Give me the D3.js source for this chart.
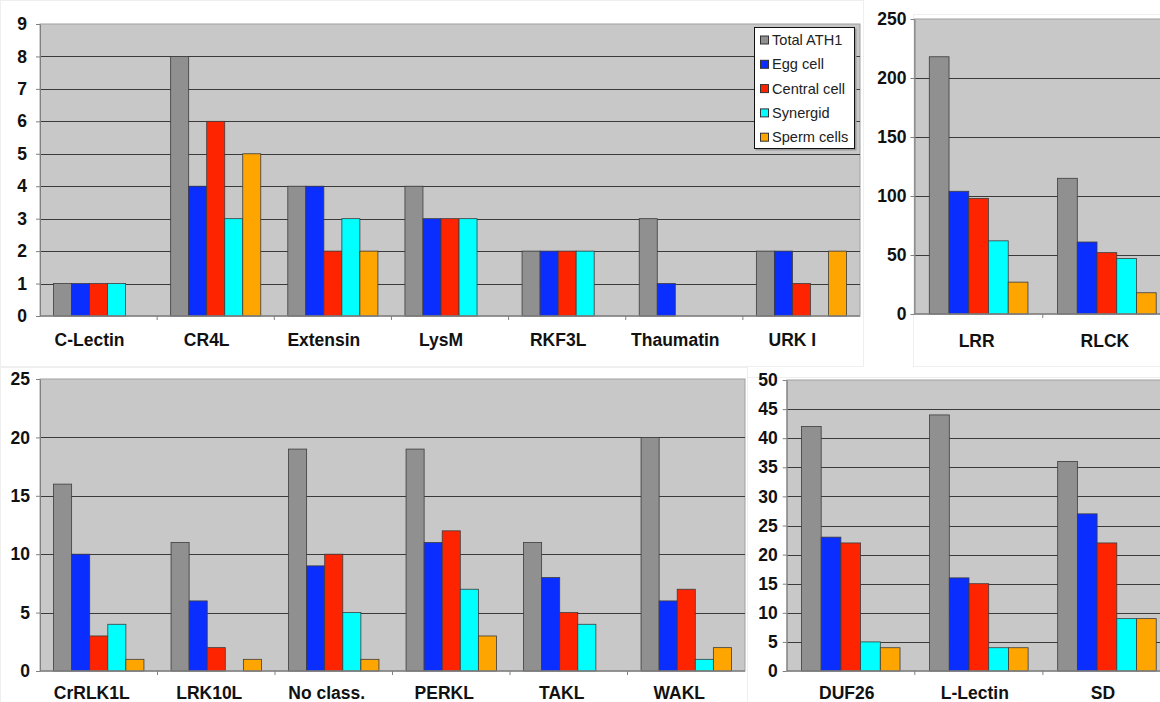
<!DOCTYPE html>
<html>
<head>
<meta charset="utf-8">
<script src="https://cdn.jsdelivr.net/npm/d3@7"></script>
<style>
  html, body { margin: 0; padding: 0; background: #fff; }
  svg { display: block; font-family: "Liberation Sans", Arial, sans-serif; }
</style>
</head>
<body>
<svg id="chart" width="1160" height="702"></svg>
<script>
// Series shared by every panel
const seriesNames = ["Total ATH1", "Egg cell", "Central cell", "Synergid", "Sperm cells"];
const seriesColors = ["#909090", "#0a2eff", "#ff2400", "#00ffff", "#ffa500"];

// Panel A: small families
const catsA = ["C-Lectin", "CR4L", "Extensin", "LysM", "RKF3L", "Thaumatin", "URK I"];
const totalA = [1, 8, 4, 4, 2, 3, 2];
const eggA = [1, 4, 4, 3, 2, 1, 2];
const centralA = [1, 6, 2, 3, 2, 0, 1];
const synergidA = [1, 3, 3, 3, 2, 0, 0];
const spermA = [0, 5, 2, 0, 0, 0, 2];
const ticksA = [0, 1, 2, 3, 4, 5, 6, 7, 8, 9];

// Panel B: large families
const catsB = ["LRR", "RLCK"];
const totalB = [218, 115];
const eggB = [104, 61];
const centralB = [98, 52];
const synergidB = [62, 47];
const spermB = [27, 18];
const ticksB = [0, 50, 100, 150, 200, 250];

// Panel C: medium families
const catsC = ["CrRLK1L", "LRK10L", "No class.", "PERKL", "TAKL", "WAKL"];
const totalC = [16, 11, 19, 19, 11, 20];
const eggC = [10, 6, 9, 11, 8, 6];
const centralC = [3, 2, 10, 12, 5, 7];
const synergidC = [4, 0, 5, 7, 4, 1];
const spermC = [1, 1, 1, 3, 0, 2];
const ticksC = [0, 5, 10, 15, 20, 25];

// Panel D: lectin / DUF26 families
const catsD = ["DUF26", "L-Lectin", "SD"];
const totalD = [42, 44, 36];
const eggD = [23, 16, 27];
const centralD = [22, 15, 22];
const synergidD = [5, 4, 9];
const spermD = [4, 4, 9];
const ticksD = [0, 5, 10, 15, 20, 25, 30, 35, 40, 45, 50];

const svg = d3.select("#chart");

// faint chart-area frames
const frames = [
  [0, 0, 863, 366],
  [913, 14, 260, 352],
  [0, 367, 747, 340],
  [747, 377, 420, 330]
];
svg.selectAll("rect.frame").data(frames).join("rect")
  .attr("class", "frame")
  .attr("x", d => d[0] + 0.5).attr("y", d => d[1] + 0.5)
  .attr("width", d => d[2]).attr("height", d => d[3])
  .attr("fill", "none").attr("stroke", "#efefef").attr("stroke-width", 1);

function drawPanel(cfg) {
  const g = svg.append("g");
  const x = d3.scaleBand().domain(cfg.cats).range([cfg.left, cfg.right]).paddingInner(0).paddingOuter(0);
  const y = d3.scaleLinear().domain([0, cfg.ticks[cfg.ticks.length - 1]]).range([cfg.bottom, cfg.top]);
  const w = cfg.right - cfg.left;

  // plot background
  g.append("rect")
    .attr("x", cfg.left).attr("y", cfg.top)
    .attr("width", w).attr("height", cfg.bottom - cfg.top)
    .attr("fill", "#c8c8c8").attr("stroke", "#a0a0a0").attr("stroke-width", 1);

  // gridlines
  g.append("g")
    .attr("transform", `translate(${cfg.left},0)`)
    .call(d3.axisLeft(y).tickValues(cfg.ticks.filter(t => t > 0 && t < cfg.ticks[cfg.ticks.length - 1])).tickSize(-w).tickFormat(""))
    .call(a => a.select(".domain").remove())
    .call(a => a.selectAll("line").attr("stroke", "#3a3a3a").attr("stroke-width", 1).attr("shape-rendering", "crispEdges"));

  // bars: five per category, with a 150% gap between groups
  const group = x.bandwidth();
  const barW = group / (seriesNames.length + 1.5);
  const inner = d3.scaleBand().domain(d3.range(seriesNames.length))
    .range([barW * 0.75, barW * 0.75 + barW * seriesNames.length]);
  const rows = [];
  cfg.cats.forEach((c, i) => {
    cfg.series.forEach((vals, s) => {
      if (vals[i] > 0) rows.push({ c, s, v: vals[i] });
    });
  });
  g.selectAll("rect.bar").data(rows).join("rect")
    .attr("class", "bar")
    .attr("x", d => x(d.c) + inner(d.s))
    .attr("y", d => y(d.v))
    .attr("width", inner.bandwidth())
    .attr("height", d => y(0) - y(d.v))
    .attr("fill", d => seriesColors[d.s])
    .attr("stroke", "#3c3c3c").attr("stroke-width", 0.8);

  // value axis
  const ya = g.append("g")
    .attr("transform", `translate(${cfg.left},0)`)
    .call(d3.axisLeft(y).tickValues(cfg.ticks).tickSize(4).tickPadding(cfg.labelGap).tickSizeOuter(0));
  ya.select(".domain").attr("stroke", "#808080");
  ya.selectAll("line").attr("stroke", "#808080");
  ya.selectAll("text").attr("font-size", 17.5).attr("font-weight", "bold").attr("fill", "#111")
    .attr("font-family", "Liberation Sans, Arial, sans-serif");

  // category axis
  const xa = g.append("g").attr("transform", `translate(0,${cfg.bottom})`);
  xa.append("line").attr("x1", cfg.left).attr("x2", cfg.right).attr("y1", 0).attr("y2", 0)
    .attr("stroke", "#808080").attr("stroke-width", 1.5);
  xa.selectAll("line.tick").data(cfg.cats.slice(1)).join("line")
    .attr("class", "tick")
    .attr("x1", d => x(d)).attr("x2", d => x(d)).attr("y1", 0).attr("y2", 4)
    .attr("stroke", "#808080");
  xa.selectAll("text").data(cfg.cats).join("text")
    .attr("x", d => x(d) + group / 2 + cfg.labelShift)
    .attr("y", cfg.labelY)
    .attr("text-anchor", "middle")
    .attr("font-size", 17.5).attr("font-weight", "bold").attr("fill", "#111")
    .text(d => d);
}

drawPanel({ cats: catsA, series: [totalA, eggA, centralA, synergidA, spermA], ticks: ticksA,
  left: 40, right: 860, top: 24, bottom: 316, labelGap: 9, labelY: 30, labelShift: -9 });
drawPanel({ cats: catsB, series: [totalB, eggB, centralB, synergidB, spermB], ticks: ticksB,
  left: 914.5, right: 1171, top: 19, bottom: 314, labelGap: 4, labelY: 33, labelShift: -2 });
drawPanel({ cats: catsC, series: [totalC, eggC, centralC, synergidC, spermC], ticks: ticksC,
  left: 40, right: 745, top: 379, bottom: 671, labelGap: 6, labelY: 28, labelShift: -7 });
drawPanel({ cats: catsD, series: [totalD, eggD, centralD, synergidD, spermD], ticks: ticksD,
  left: 786.7, right: 1171, top: 380, bottom: 671, labelGap: 5, labelY: 28, labelShift: -4 });

// legend
const lg = svg.append("g").attr("transform", "translate(754,27)");
lg.append("rect").attr("x", 1.5).attr("y", 1.5).attr("width", 101).attr("height", 122).attr("fill", "#9a9a9a");
lg.append("rect").attr("x", 0.5).attr("y", 0.5).attr("width", 100).attr("height", 121)
  .attr("fill", "#fff").attr("stroke", "#111").attr("stroke-width", 1);
const items = lg.selectAll("g.item").data(seriesNames).join("g")
  .attr("class", "item")
  .attr("transform", (d, i) => `translate(0,${12.5 + i * 24.3})`);
items.append("rect").attr("x", 6.5).attr("y", -3.5).attr("width", 8).attr("height", 8)
  .attr("fill", (d, i) => seriesColors[i]).attr("stroke", "#333").attr("stroke-width", 1);
items.append("text").attr("x", 18).attr("y", 5.5)
  .attr("font-size", 14.6).attr("fill", "#222").text(d => d);
</script>
</body>
</html>
